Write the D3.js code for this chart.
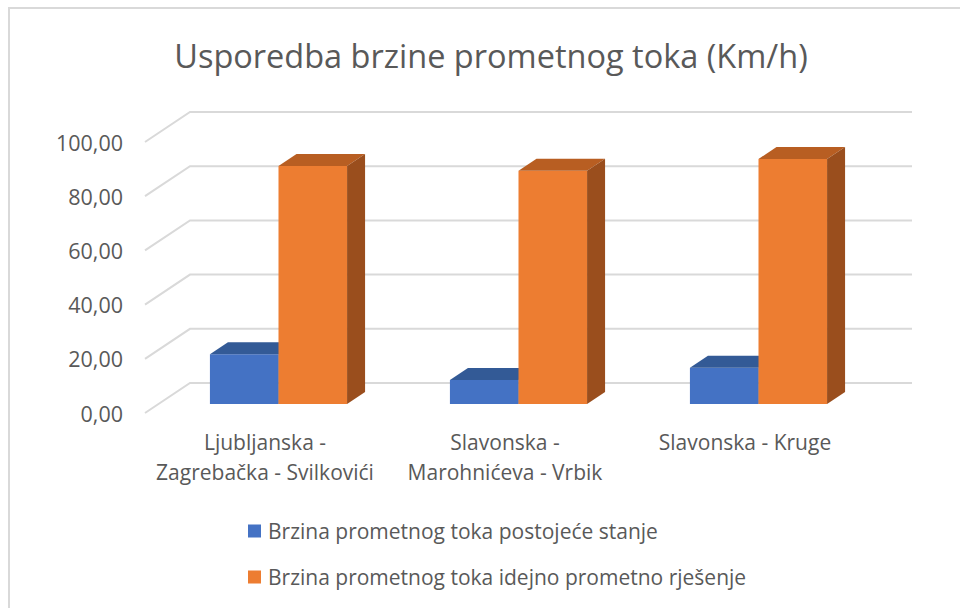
<!DOCTYPE html>
<html>
<head>
<meta charset="utf-8">
<script src="https://cdn.jsdelivr.net/npm/d3@7"></script>
<style>
  html, body { margin: 0; padding: 0; background: #fff; }
  svg { display: block; font-family: "Open Sans", Lato, sans-serif; }
</style>
</head>
<body>
<svg id="chart" width="960" height="608"></svg>
<script>
// Road sections (each line of a label is separated by "\n")
const categories = [
  "Ljubljanska -\nZagrebačka - Svilkovići",
  "Slavonska -\nMarohnićeva - Vrbik",
  "Slavonska - Kruge"
];
const seriesNames = [
  "Brzina prometnog toka postojeće stanje",
  "Brzina prometnog toka idejno prometno rješenje"
];
const existingSpeed = [18.4, 8.9, 13.4];
const proposedSpeed = [87.8, 86.1, 90.4];
const yTicks = [0, 20, 40, 60, 80, 100];
const chartTitle = "Usporedba brzine prometnog toka (Km/h)";

const seriesValues = [existingSpeed, proposedSpeed];
const palette = [
  { front: "#4472C4", top: "#335A96", side: "#2F5597" },
  { front: "#ED7D31", top: "#B85E22", side: "#9A4E1D" }
];

const svg = d3.select("#chart");
const W = 960, H = 608;

// Chart frame
svg.append("rect")
  .attr("x", 9).attr("y", 8)
  .attr("width", W).attr("height", H)
  .attr("fill", "#fff")
  .attr("stroke", "#d9d9d9").attr("stroke-width", 2);

// Oblique 3D projection: front plane + depth offset
const front = { left: 145, right: 865 };
const depth = { dx: 45, dy: -30 };
const y = d3.scaleLinear().domain([0, 100]).range([413, 142]);
const x = d3.scaleBand().domain(d3.range(categories.length))
  .range([front.left, front.right]).paddingInner(0).paddingOuter(0);
const groupWidth = x.bandwidth() / 1.75;
const xs = d3.scaleBand().domain(d3.range(seriesValues.length))
  .range([0, groupWidth]).padding(0);
const barFront = 0.3, barBack = 0.7;

const proj = (px, v, t) => [px + depth.dx * t, y(v) + depth.dy * t];

// Title
svg.append("text")
  .attr("x", 491).attr("y", 55)
  .attr("text-anchor", "middle").attr("dominant-baseline", "central")
  .attr("fill", "#595959").attr("font-size", 32.5)
  .text(chartTitle);

// Gridlines: side wall diagonal + back wall
const grid = svg.append("g").attr("stroke", "#d9d9d9").attr("stroke-width", 2).attr("fill", "none");
yTicks.forEach(v => {
  const a = proj(front.left, v, 0);
  const b = proj(front.left, v, 1);
  const c = proj(front.right + 2, v, 1);
  grid.append("path").attr("d", d3.line()([a, b, c]));
});

// Value axis labels
const fmt = v => d3.format(".2f")(v).replace(".", ",");
svg.append("g").selectAll("text").data(yTicks).join("text")
  .attr("x", 123).attr("y", d => y(d))
  .attr("text-anchor", "end").attr("dominant-baseline", "central")
  .attr("fill", "#595959").attr("font-size", 21.5)
  .text(d => fmt(d));

// Bars (drawn left to right so nearer faces overlap correctly)
const bars = svg.append("g");
categories.forEach((cat, ci) => {
  seriesValues.forEach((vals, si) => {
    const v = vals[ci];
    const x0 = x(ci) + (x.bandwidth() - groupWidth) / 2 + xs(si);
    const x1 = x0 + xs.bandwidth();
    const col = palette[si];
    const fbl = proj(x0, 0, barFront), fbr = proj(x1, 0, barFront);
    const ftl = proj(x0, v, barFront), ftr = proj(x1, v, barFront);
    const btl = proj(x0, v, barBack), btr = proj(x1, v, barBack);
    const bbr = proj(x1, 0, barBack);
    const poly = pts => "M" + pts.map(p => p.join(",")).join("L") + "Z";
    bars.append("path").attr("d", poly([fbl, fbr, ftr, ftl])).attr("fill", col.front);
    bars.append("path").attr("d", poly([ftl, ftr, btr, btl])).attr("fill", col.top);
    bars.append("path").attr("d", poly([fbr, bbr, btr, ftr])).attr("fill", col.side);
  });
});

// Category labels
const catG = svg.append("g");
categories.forEach((cat, ci) => {
  const cx = x(ci) + x.bandwidth() / 2;
  const t = catG.append("text")
    .attr("text-anchor", "middle")
    .attr("fill", "#595959").attr("font-size", 21);
  cat.split("\n").forEach((line, li) => {
    t.append("tspan").attr("x", cx).attr("y", 442 + li * 30)
      .attr("dominant-baseline", "central").text(line);
  });
});

// Legend
const legend = svg.append("g");
seriesNames.forEach((name, i) => {
  const ly = 531 + i * 46;
  legend.append("rect").attr("x", 248).attr("y", ly - 6.5)
    .attr("width", 13).attr("height", 13).attr("fill", palette[i].front);
  legend.append("text").attr("x", 268).attr("y", ly)
    .attr("dominant-baseline", "central")
    .attr("fill", "#595959").attr("font-size", 21)
    .text(name);
});
</script>
</body>
</html>
